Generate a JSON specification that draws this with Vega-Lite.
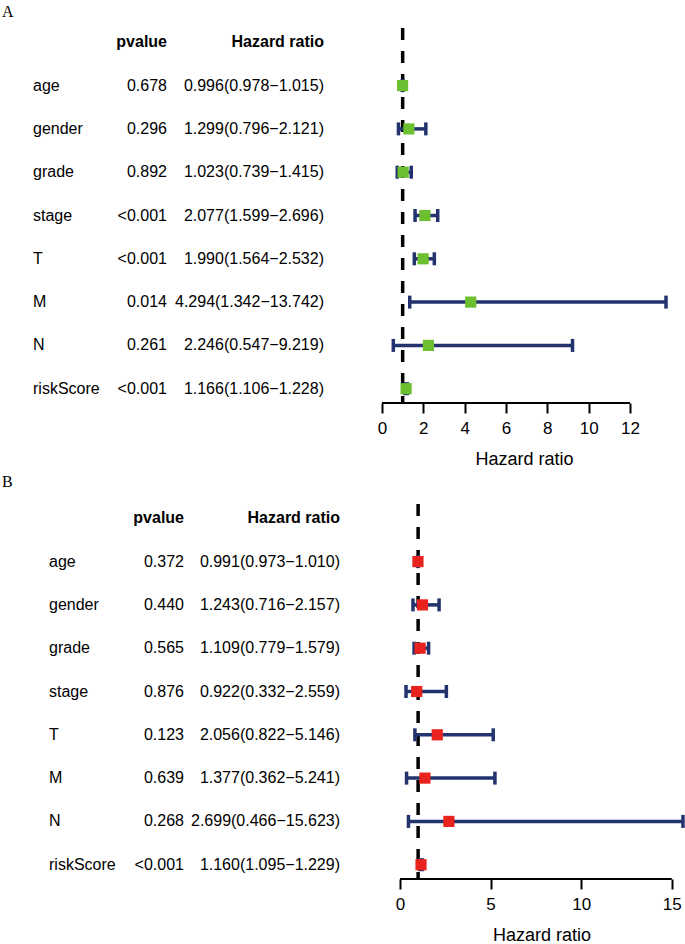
{
  "$schema": "https://vega.github.io/schema/vega-lite/v6.json",
  "padding": {"left": 0, "top": 4, "right": 0, "bottom": 0},
  "background": "white",
  "config": {
    "view": {"stroke": null},
    "font": "Liberation Sans",
    "text": {"font": "Liberation Sans", "fontSize": 16, "color": "black", "baseline": "middle"},
    "axis": {"labelFont": "Liberation Sans", "titleFont": "Liberation Sans", "labelFlush": false}
  },
  "datasets": {
    "A": [
      {"var": "age", "pvalue": "0.678", "hr": 0.996, "lo": 0.978, "hi": 1.015, "label": "0.996(0.978−1.015)"},
      {"var": "gender", "pvalue": "0.296", "hr": 1.299, "lo": 0.796, "hi": 2.121, "label": "1.299(0.796−2.121)"},
      {"var": "grade", "pvalue": "0.892", "hr": 1.023, "lo": 0.739, "hi": 1.415, "label": "1.023(0.739−1.415)"},
      {"var": "stage", "pvalue": "<0.001", "hr": 2.077, "lo": 1.599, "hi": 2.696, "label": "2.077(1.599−2.696)"},
      {"var": "T", "pvalue": "<0.001", "hr": 1.990, "lo": 1.564, "hi": 2.532, "label": "1.990(1.564−2.532)"},
      {"var": "M", "pvalue": "0.014", "hr": 4.294, "lo": 1.342, "hi": 13.742, "label": "4.294(1.342−13.742)"},
      {"var": "N", "pvalue": "0.261", "hr": 2.246, "lo": 0.547, "hi": 9.219, "label": "2.246(0.547−9.219)"},
      {"var": "riskScore", "pvalue": "<0.001", "hr": 1.166, "lo": 1.106, "hi": 1.228, "label": "1.166(1.106−1.228)"}
    ],
    "B": [
      {"var": "age", "pvalue": "0.372", "hr": 0.991, "lo": 0.973, "hi": 1.010, "label": "0.991(0.973−1.010)"},
      {"var": "gender", "pvalue": "0.440", "hr": 1.243, "lo": 0.716, "hi": 2.157, "label": "1.243(0.716−2.157)"},
      {"var": "grade", "pvalue": "0.565", "hr": 1.109, "lo": 0.779, "hi": 1.579, "label": "1.109(0.779−1.579)"},
      {"var": "stage", "pvalue": "0.876", "hr": 0.922, "lo": 0.332, "hi": 2.559, "label": "0.922(0.332−2.559)"},
      {"var": "T", "pvalue": "0.123", "hr": 2.056, "lo": 0.822, "hi": 5.146, "label": "2.056(0.822−5.146)"},
      {"var": "M", "pvalue": "0.639", "hr": 1.377, "lo": 0.362, "hi": 5.241, "label": "1.377(0.362−5.241)"},
      {"var": "N", "pvalue": "0.268", "hr": 2.699, "lo": 0.466, "hi": 15.623, "label": "2.699(0.466−15.623)"},
      {"var": "riskScore", "pvalue": "<0.001", "hr": 1.160, "lo": 1.095, "hi": 1.229, "label": "1.160(1.095−1.229)"}
    ]
  },
  "spacing": 6,
  "vconcat": [
    {
      "title": {"text": "A", "anchor": "start", "font": "Liberation Serif", "fontSize": 16, "fontWeight": "normal", "color": "black", "offset": 6, "dx": 2},
      "bounds": "flush",
      "spacing": 0,
      "data": {"name": "A"},
      "hconcat": [
        {
          "width": 116, "height": 375,
          "mark": {"type": "text", "align": "left"},
          "encoding": {
            "y": {"field": "var", "type": "nominal", "scale": {"type": "point", "domain": ["hdr", "age", "gender", "grade", "stage", "T", "M", "N", "riskScore"], "padding": 0.33}, "axis": null},
            "x": {"value": 33},
            "text": {"field": "var"}
          }
        },
        {
          "width": 51, "height": 375,
          "layer": [
            {
              "mark": {"type": "text", "align": "right"},
              "encoding": {
                "y": {"field": "var", "type": "nominal", "scale": {"type": "point", "domain": ["hdr", "age", "gender", "grade", "stage", "T", "M", "N", "riskScore"], "padding": 0.33}, "axis": null},
                "x": {"value": "width"},
                "text": {"field": "pvalue"}
              }
            },
            {
              "data": {"values": [{"var": "hdr", "t": "pvalue"}]},
              "mark": {"type": "text", "align": "right", "fontWeight": "bold"},
              "encoding": {
                "y": {"field": "var", "type": "nominal", "scale": {"type": "point", "domain": ["hdr", "age", "gender", "grade", "stage", "T", "M", "N", "riskScore"], "padding": 0.33}, "axis": null},
                "x": {"value": "width"},
                "text": {"field": "t"}
              }
            }
          ]
        },
        {
          "width": 215, "height": 375,
          "layer": [
            {
              "mark": {"type": "text", "align": "right"},
              "encoding": {
                "y": {"field": "var", "type": "nominal", "scale": {"type": "point", "domain": ["hdr", "age", "gender", "grade", "stage", "T", "M", "N", "riskScore"], "padding": 0.33}, "axis": null},
                "x": {"value": 157},
                "text": {"field": "label"}
              }
            },
            {
              "data": {"values": [{"var": "hdr", "t": "Hazard ratio"}]},
              "mark": {"type": "text", "align": "right", "fontWeight": "bold"},
              "encoding": {
                "y": {"field": "var", "type": "nominal", "scale": {"type": "point", "domain": ["hdr", "age", "gender", "grade", "stage", "T", "M", "N", "riskScore"], "padding": 0.33}, "axis": null},
                "x": {"value": 157},
                "text": {"field": "t"}
              }
            }
          ]
        },
        {
          "width": 284, "height": 375,
          "encoding": {
            "y": {"field": "var", "type": "nominal", "scale": {"type": "point", "domain": ["hdr", "age", "gender", "grade", "stage", "T", "M", "N", "riskScore"], "padding": 0.33}, "axis": null}
          },
          "layer": [
            {
              "data": {"values": [{"ref": 1}]},
              "mark": {"type": "rule", "color": "black", "strokeWidth": 3.5, "strokeDash": [12, 11]},
              "encoding": {"y": null, "x": {"field": "ref", "type": "quantitative"}}
            },
            {
              "mark": {"type": "rule", "color": "#22336e", "strokeWidth": 3.5},
              "encoding": {
                "x": {"field": "lo", "type": "quantitative", "scale": {"domain": [0, 13.742], "nice": false, "zero": false},
                  "axis": {"values": [0, 2, 4, 6, 8, 10, 12], "domain": false, "grid": false, "tickSize": 10, "tickWidth": 2, "tickColor": "black", "labelFontSize": 17, "labelColor": "black", "labelPadding": 7, "title": "Hazard ratio", "titleFontSize": 18, "titleFontWeight": "normal", "titleColor": "black", "titlePadding": 14}},
                "x2": {"field": "hi"}
              }
            },
            {
              "mark": {"type": "tick", "color": "#22336e", "orient": "vertical", "size": 13, "thickness": 3.5, "opacity": 1},
              "encoding": {"x": {"field": "lo", "type": "quantitative"}}
            },
            {
              "mark": {"type": "tick", "color": "#22336e", "orient": "vertical", "size": 13, "thickness": 3.5, "opacity": 1},
              "encoding": {"x": {"field": "hi", "type": "quantitative"}}
            },
            {
              "mark": {"type": "point", "shape": "square", "filled": true, "size": 125, "color": "#6cbf2f", "opacity": 1},
              "encoding": {"x": {"field": "hr", "type": "quantitative"}}
            },
            {
              "data": {"values": [{"a": 0, "b": 12}]},
              "mark": {"type": "rule", "color": "black", "strokeWidth": 2},
              "encoding": {"y": {"value": "height"}, "x": {"field": "a", "type": "quantitative"}, "x2": {"field": "b"}}
            }
          ]
        }
      ]
    },
    {
      "title": {"text": "B", "anchor": "start", "font": "Liberation Serif", "fontSize": 16, "fontWeight": "normal", "color": "black", "offset": 12, "dx": 2},
      "bounds": "flush",
      "spacing": 0,
      "data": {"name": "B"},
      "hconcat": [
        {
          "width": 132, "height": 375,
          "mark": {"type": "text", "align": "left"},
          "encoding": {
            "y": {"field": "var", "type": "nominal", "scale": {"type": "point", "domain": ["hdr", "age", "gender", "grade", "stage", "T", "M", "N", "riskScore"], "padding": 0.33}, "axis": null},
            "x": {"value": 49},
            "text": {"field": "var"}
          }
        },
        {
          "width": 52, "height": 375,
          "layer": [
            {
              "mark": {"type": "text", "align": "right"},
              "encoding": {
                "y": {"field": "var", "type": "nominal", "scale": {"type": "point", "domain": ["hdr", "age", "gender", "grade", "stage", "T", "M", "N", "riskScore"], "padding": 0.33}, "axis": null},
                "x": {"value": "width"},
                "text": {"field": "pvalue"}
              }
            },
            {
              "data": {"values": [{"var": "hdr", "t": "pvalue"}]},
              "mark": {"type": "text", "align": "right", "fontWeight": "bold"},
              "encoding": {
                "y": {"field": "var", "type": "nominal", "scale": {"type": "point", "domain": ["hdr", "age", "gender", "grade", "stage", "T", "M", "N", "riskScore"], "padding": 0.33}, "axis": null},
                "x": {"value": "width"},
                "text": {"field": "t"}
              }
            }
          ]
        },
        {
          "width": 216, "height": 375,
          "layer": [
            {
              "mark": {"type": "text", "align": "right"},
              "encoding": {
                "y": {"field": "var", "type": "nominal", "scale": {"type": "point", "domain": ["hdr", "age", "gender", "grade", "stage", "T", "M", "N", "riskScore"], "padding": 0.33}, "axis": null},
                "x": {"value": 156},
                "text": {"field": "label"}
              }
            },
            {
              "data": {"values": [{"var": "hdr", "t": "Hazard ratio"}]},
              "mark": {"type": "text", "align": "right", "fontWeight": "bold"},
              "encoding": {
                "y": {"field": "var", "type": "nominal", "scale": {"type": "point", "domain": ["hdr", "age", "gender", "grade", "stage", "T", "M", "N", "riskScore"], "padding": 0.33}, "axis": null},
                "x": {"value": 156},
                "text": {"field": "t"}
              }
            }
          ]
        },
        {
          "width": 283, "height": 375,
          "encoding": {
            "y": {"field": "var", "type": "nominal", "scale": {"type": "point", "domain": ["hdr", "age", "gender", "grade", "stage", "T", "M", "N", "riskScore"], "padding": 0.33}, "axis": null}
          },
          "layer": [
            {
              "data": {"values": [{"ref": 1}]},
              "mark": {"type": "rule", "color": "black", "strokeWidth": 3.5, "strokeDash": [12, 11]},
              "encoding": {"y": null, "x": {"field": "ref", "type": "quantitative"}}
            },
            {
              "mark": {"type": "rule", "color": "#22336e", "strokeWidth": 3.5},
              "encoding": {
                "x": {"field": "lo", "type": "quantitative", "scale": {"domain": [0, 15.623], "nice": false, "zero": false},
                  "axis": {"values": [0, 5, 10, 15], "domain": false, "grid": false, "tickSize": 10, "tickWidth": 2, "tickColor": "black", "labelFontSize": 17, "labelColor": "black", "labelPadding": 7, "title": "Hazard ratio", "titleFontSize": 18, "titleFontWeight": "normal", "titleColor": "black", "titlePadding": 14}},
                "x2": {"field": "hi"}
              }
            },
            {
              "mark": {"type": "tick", "color": "#22336e", "orient": "vertical", "size": 13, "thickness": 3.5, "opacity": 1},
              "encoding": {"x": {"field": "lo", "type": "quantitative"}}
            },
            {
              "mark": {"type": "tick", "color": "#22336e", "orient": "vertical", "size": 13, "thickness": 3.5, "opacity": 1},
              "encoding": {"x": {"field": "hi", "type": "quantitative"}}
            },
            {
              "mark": {"type": "point", "shape": "square", "filled": true, "size": 125, "color": "#e8231d", "opacity": 1},
              "encoding": {"x": {"field": "hr", "type": "quantitative"}}
            },
            {
              "data": {"values": [{"a": 0, "b": 15}]},
              "mark": {"type": "rule", "color": "black", "strokeWidth": 2},
              "encoding": {"y": {"value": "height"}, "x": {"field": "a", "type": "quantitative"}, "x2": {"field": "b"}}
            }
          ]
        }
      ]
    }
  ]
}
